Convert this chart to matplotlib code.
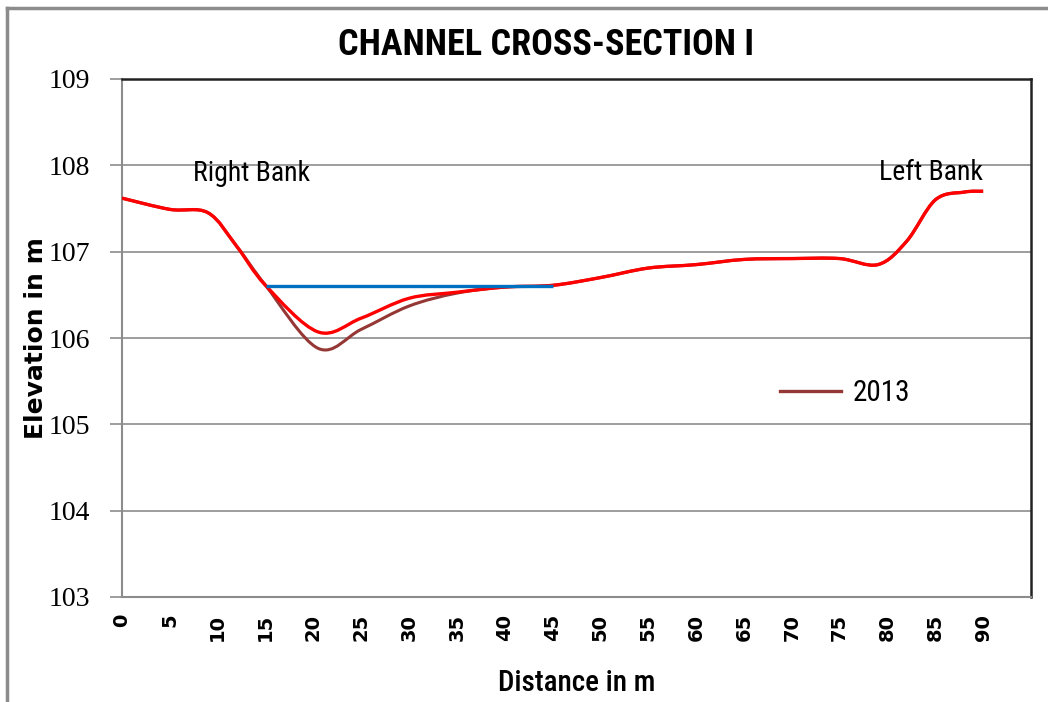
import numpy as np
import matplotlib
matplotlib.use("Agg")
import matplotlib.pyplot as plt
from matplotlib.path import Path
from matplotlib.patches import PathPatch
from matplotlib.lines import Line2D

# survey data (distance in m, elevation in m)
dist = [0, 5, 9, 12, 15, 20.5, 25, 30, 35, 40, 45, 50, 55, 60, 65, 70, 75, 79, 82, 85, 88, 90]
elev_new = [107.62, 107.49, 107.45, 107.06, 106.61, 106.07, 106.23, 106.46, 106.53, 106.59, 106.61,
            106.70, 106.81, 106.85, 106.91, 106.92, 106.92, 106.85, 107.12, 107.60, 107.69, 107.70]
elev_2013 = [107.62, 107.49, 107.45, 107.06, 106.61, 105.88, 106.10, 106.37, 106.52, 106.59, 106.61,
             106.70, 106.81, 106.85, 106.91, 106.92, 106.92, 106.85, 107.12, 107.60, 107.69, 107.70]
water_x = [15, 45]
water_y = [106.6, 106.6]

x_ticks = list(range(0, 95, 5))
y_ticks = [103, 104, 105, 106, 107, 108, 109]

NARROW = ["Liberation Sans Narrow", "DejaVu Sans Condensed", "Roboto Condensed", "DejaVu Sans"]


def smooth_path(xs, ys):
    # excel-like smoothed line: catmull-rom turned into cubic bezier segments
    p = np.column_stack([xs, ys]).astype(float)
    n = len(p)
    verts = [p[0]]
    codes = [Path.MOVETO]
    for i in range(n - 1):
        p0 = p[i - 1] if i > 0 else p[i]
        p3 = p[i + 2] if i + 2 < n else p[i + 1]
        c1 = p[i] + (p[i + 1] - p0) / 6.0
        c2 = p[i + 1] - (p3 - p[i]) / 6.0
        verts += [c1, c2, p[i + 1]]
        codes += [Path.CURVE4] * 3
    return Path(verts, codes)


fig = plt.figure(figsize=(10.48, 7.02), dpi=100)
ax = fig.add_axes([122 / 1048, 1 - 597 / 702, (1031 - 122) / 1048, (597 - 79) / 702])

ax.add_patch(PathPatch(smooth_path(dist, elev_2013), fill=False, edgecolor="#953735", lw=2.2, zorder=3))
ax.add_patch(PathPatch(smooth_path(dist, elev_new), fill=False, edgecolor="#FF0000", lw=2.4, zorder=4))
ax.plot(water_x, water_y, color="#0070C0", lw=2.4, zorder=5, solid_capstyle="butt")

ax.set_xlim(0, 95)
ax.set_ylim(103, 109)
ax.set_xticks(x_ticks)
ax.set_yticks(y_ticks)
ax.grid(axis="y", color="#8c8c8c", lw=1.2)
ax.set_axisbelow(True)

ax.tick_params(axis="x", length=0, pad=12)
ax.tick_params(axis="y", length=9, color="#8c8c8c", width=1.2, pad=14)
for lb in ax.get_xticklabels():
    lb.set_rotation(90)
    lb.set_fontweight("bold")
    lb.set_fontsize(14)
for lb in ax.get_yticklabels():
    lb.set_family("Liberation Serif")
    lb.set_fontsize(20)

for s in ["left", "bottom"]:
    ax.spines[s].set_color("#8c8c8c")
    ax.spines[s].set_linewidth(1.5)
for s in ["top", "right"]:
    ax.spines[s].set_color("#222222")
    ax.spines[s].set_linewidth(1.8)

ax.set_ylabel("Elevation in m", fontsize=18, fontweight="bold")
ax.yaxis.set_label_coords(-0.081, 0.5)
ax.set_xlabel("Distance in m", family=NARROW, fontsize=21, fontweight="medium", labelpad=20)
fig.text(546 / 1048, 1 - 45 / 702, "CHANNEL CROSS-SECTION I", family=NARROW, fontsize=26,
         fontweight="bold", ha="center", va="center")

ax.text(7.4, 107.9, "Right Bank", family=NARROW, fontsize=20, va="center")
ax.text(79.1, 107.92, "Left Bank", family=NARROW, fontsize=20, va="center")

handle = Line2D([], [], color="#953735", lw=2.4)
ax.legend([handle], ["2013"], loc="center left", bbox_to_anchor=(0.724, 0.394), frameon=False,
          borderpad=0, borderaxespad=0, handlelength=2.1, handletextpad=0.4,
          prop={"family": NARROW, "size": 21})

# outer chart frame
fig.add_artist(Line2D([7 / 1048, 7 / 1048], [0, 1 - 8 / 702], color="#8c8c8c", lw=2.5))
fig.add_artist(Line2D([7 / 1048, 1], [1 - 8 / 702, 1 - 8 / 702], color="#8c8c8c", lw=2.5))

fig.savefig("out.png", dpi=100)
